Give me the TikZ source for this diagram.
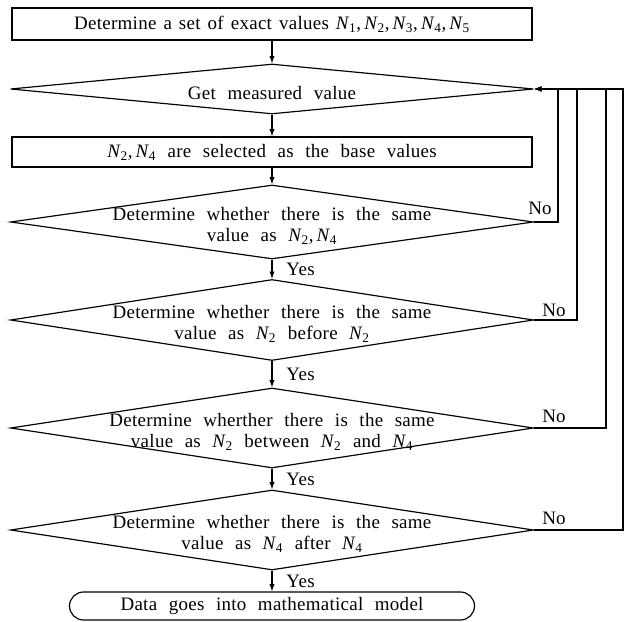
\documentclass[tikz,border=0pt]{standalone}
\usepackage{fontspec}
\setmainfont[WordSpace=2.3,LetterSpace=1.5]{Liberation Serif}
\newfontfamily\tightfont[WordSpace=1.4,LetterSpace=1.5]{Liberation Serif}
\usetikzlibrary{arrows.meta,positioning,shapes.geometric}
\newcommand{\flowfont}{\fontsize{16.2}{17.2}\selectfont}
\newcommand{\Nv}[1]{\textit{N}\kern-0.5pt\textsubscript{#1}}

\begin{document}
\begin{tikzpicture}[
  x=1cm,y=1cm,
  proc/.style={draw, line width=1pt, minimum width=15.6cm, inner sep=0pt, font=\flowfont},
  decide/.style={draw, diamond, line width=1pt, minimum width=15.69cm, inner sep=0pt, label={[align=center, font=\flowfont, yshift=-0.12cm]center:#1}},
  term/.style={draw, line width=1pt, rounded corners=0.42cm, minimum width=12.15cm, minimum height=0.84cm, inner sep=0pt, font=\flowfont},
  yeslbl/.style={right, font=\flowfont, xshift=0.3cm},
  nolbl/.style={anchor=base, font=\flowfont},
  arr/.style={-{Latex[length=0.22cm,width=0.16cm]}, line width=1pt}
]
\useasboundingbox (-8.16,0) rectangle (10.71,-18.66);
\node[proc, minimum height=0.96cm, font=\flowfont\tightfont] (S) at (0,-0.72) {Determine a set of exact values \Nv{1},\,\Nv{2},\,\Nv{3},\,\Nv{4},\,\Nv{5}};
\node[decide={Get measured value}, minimum height=1.5cm] (D1) at (0,-2.67) {};
\node[proc, minimum height=0.9cm] (B) at (0,-4.56) {\Nv{2},\,\Nv{4} are selected as the base values};
\node[decide={Determine whether there is the same\\value as \Nv{2},\,\Nv{4}}, minimum height=2.22cm] (D2) at (0,-6.66) {};
\node[decide={Determine whether there is the same\\value as \Nv{2} before \Nv{2}}, minimum height=2.43cm] (D3) at (0,-9.6) {};
\node[decide={Determine wherther there is the same\\value as \Nv{2} between \Nv{2} and \Nv{4}}, minimum height=2.4cm] (D4) at (0,-12.84) {};
\node[decide={Determine whether there is the same\\value as \Nv{4} after \Nv{4}}, minimum height=2.4cm] (D5) at (0,-15.9) {};
\node[term] (E) at (0,-18.18) {Data goes into mathematical model};
\draw[arr] (S) -- (D1);
\draw[arr] (D1) -- (B);
\draw[arr] (B) -- (D2);
\draw[arr] (D2) -- node[yeslbl] {Yes} (D3);
\draw[arr] (D3) -- node[yeslbl] {Yes} (D4);
\draw[arr] (D4) -- node[yeslbl] {Yes} (D5);
\draw[arr] (D5) -- node[yeslbl] {Yes} (E);
% back to "get measured value"
\coordinate (c2) at (8.58,-2.67);
\coordinate (c3) at (9.15,-2.67);
\coordinate (c4) at (10.02,-2.67);
\coordinate (c5) at (10.53,-2.67);
\draw[arr] (D2.east) -| (c2) -- (D1.east);
\draw[arr] (D3.east) -| (c3) -- (D1.east);
\draw[arr] (D4.east) -| (c4) -- (D1.east);
\draw[arr] (D5.east) -| (c5) -- (D1.east);
\node[nolbl] (no2) at (8.04,-6.45) {No};
\node[nolbl] (no3) at (8.46,-9.51) {No};
\node[nolbl] (no4) at (8.46,-12.69) {No};
\node[nolbl] (no5) at (8.46,-15.75) {No};
\end{tikzpicture}
\end{document}
